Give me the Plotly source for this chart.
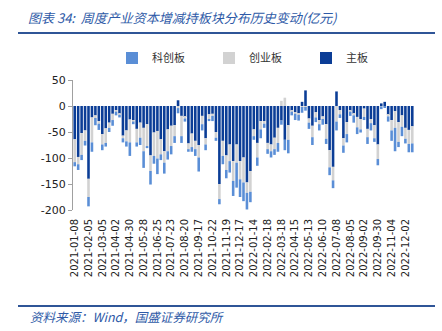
import pandas as pd
import plotly.graph_objects as go

# ---- data ----
all_weeks = pd.date_range("2021-01-08", "2022-12-16", freq="7D")
skipped_weeks = ["2021-10-01", "2022-02-04", "2022-10-07"]
dates = [d.strftime("%Y-%m-%d") for d in all_weeks if d.strftime("%Y-%m-%d") not in skipped_weeks]

main_board = [-64, -98, -52, -47, -140, -22, -18, -29, -54, -43,
              -32, -15, -8, -15, -57, -47, -26, -27, -44, -32,
              -42, -35, -95, -51, -48, -64, -87, -45, -38, -37,
              11, -19, -21, -72, -53, -67, -75, -19, -62, -16,
              -15, -50, -150, -67, -95, -74, -106, -74, -106, -99,
              -147, -125, -45, -71, -29, -29, -71, -74, -61, -42,
              -28, -65, -37, -9, -12, -14, 8, 30, -24, -38,
              -12, -27, -20, -35, -85, -117, 28, -8, -62, -31,
              -9, -15, -21, -25, -5, -44, -25, -37, -74, 5,
              8, -17, -27, -10, -31, -18, -42, -46, -39]
chinext = [-44, -14, -42, -20, -35, -48, -5, -5, -20, -28,
           -10, -12, -3, -2, -5, -21, -44, -3, -26, -29,
           -45, -42, -30, -45, -53, -29, -22, -42, -39, -21,
           -4, -39, -3, -11, -26, -16, -24, -16, -12, -10,
           -4, -11, -29, -29, -28, -32, -38, -35, -35, -48,
           -20, -40, -13, -28, -16, -5, -12, -13, -22, -29,
           10, 16, -28, -2, -3, -3, -2, -2, -8, -22,
           -10, -8, -5, -28, -33, -26, -30, -8, -14, -23,
           -2, -3, -20, -20, -16, -16, -8, -25, -28, -1,
           -1, -3, -20, -32, -38, -22, -21, -27, -33]
star = [-8, -11, -10, -9, -18, -18, -14, -12, -11, -7,
        -8, -11, -7, -5, -8, -10, -26, -5, -8, -14,
        -32, -4, -26, -15, -30, -11, -21, -16, -16, -13,
        -10, -13, -6, -5, -9, -13, -27, -12, -11, -3,
        -10, -6, -10, -16, -16, -22, -29, -48, -34, -36,
        -32, -20, -7, -16, -17, -8, -9, -12, -11, -17,
        -8, -20, -26, -7, -12, -11, -11, -7, -12, -15,
        -9, -12, -11, -10, -15, -15, -17, -7, -14, -16,
        -8, -14, -13, -6, -6, -13, -14, -7, -12, -5,
        -1, -10, -20, -45, -10, -18, -9, -16, -17]

series_names = ["主板", "创业板", "科创板"]
y_tick_vals = [50, 0, -50, -100, -150, -200]
y_tick_text = ["50", "0", "-50", "-100", "-150", "-200"]
x_tick_labels = dates[::4]

title_text = "图表 34:  周度产业资本增减持板块分布历史变动(亿元)"
source_text = "资料来源：Wind，国盛证券研究所"

# ---- styling ----
colors = ["#0B3D96", "#D2D2D2", "#5A8ED6"]
W, H = 442, 331
ML, MR, MT, MB = 73, 28, 80, 121
pw, ph = W - ML - MR, H - MT - MB
y_min, y_max = -200, 50

def px_x(px):
    return (px - ML) / pw

def px_y(py):
    return (H - MB - py) / ph

fig = go.Figure()
for name, vals, col in zip(series_names, [main_board, chinext, star], colors):
    fig.add_trace(go.Bar(x=dates, y=vals, name=name, marker=dict(color=col, line=dict(width=0))))

n = len(dates)
fig.update_layout(
    width=W, height=H,
    margin=dict(l=ML, r=MR, t=MT, b=MB),
    paper_bgcolor="white", plot_bgcolor="white",
    barmode="relative", bargap=0.25,
    font=dict(family="DejaVu Sans", size=11, color="#222222"),
    showlegend=True,
    legend=dict(orientation="h", x=px_x(112), y=px_y(58), xanchor="left", yanchor="middle",
                traceorder="reversed", entrywidth=52, itemwidth=30,
                font=dict(family="Noto Sans CJK SC", size=11, color="#333333"),
                bgcolor="rgba(0,0,0,0)"),
    xaxis=dict(type="category", categoryorder="array", categoryarray=dates,
               range=[-0.5, n - 0.5], tickmode="array", tickvals=x_tick_labels,
               ticktext=x_tick_labels, tickangle=-90, showline=False, ticks="",
               ticklabelstandoff=6,
               showgrid=False, zeroline=False, tickfont=dict(family="DejaVu Sans", size=10, color="#222222")),
    xaxis2=dict(overlaying="x", anchor="free", position=(0 - y_min) / (y_max - y_min),
                range=[-0.5, n - 0.5], showline=True, linecolor="#A0A0A0", linewidth=1,
                ticks="inside", ticklen=3, tickcolor="#A0A0A0", tickmode="linear",
                tick0=-0.5, dtick=1, showticklabels=False, showgrid=False, zeroline=False),
    yaxis=dict(range=[y_min, y_max], tickmode="array", tickvals=y_tick_vals, ticktext=y_tick_text,
               showline=True, linecolor="#A0A0A0", linewidth=1, ticks="outside", ticklen=4,
               tickcolor="#A0A0A0", showgrid=False, zeroline=False,
               tickfont=dict(family="DejaVu Sans", size=11, color="#222222")),
)

# title, rules and source
fig.add_annotation(text="<i>" + title_text + "</i>", xref="paper", yref="paper",
                   x=px_x(26), y=px_y(18), xanchor="left", yanchor="middle", showarrow=False,
                   font=dict(family="Noto Sans CJK SC", size=13, color="#2E5AA7"))
fig.add_annotation(text="<i>" + source_text + "</i>", xref="paper", yref="paper",
                   x=px_x(28), y=px_y(316), xanchor="left", yanchor="middle", showarrow=False,
                   font=dict(family="Noto Sans CJK SC", size=12.5, color="#2E5AA7"))
for py in (33, 306):
    fig.add_shape(type="line", xref="paper", yref="paper", x0=px_x(18), x1=px_x(435),
                  y0=px_y(py), y1=px_y(py), line=dict(color="#2F5597", width=2))

fig.write_html("out.html")
